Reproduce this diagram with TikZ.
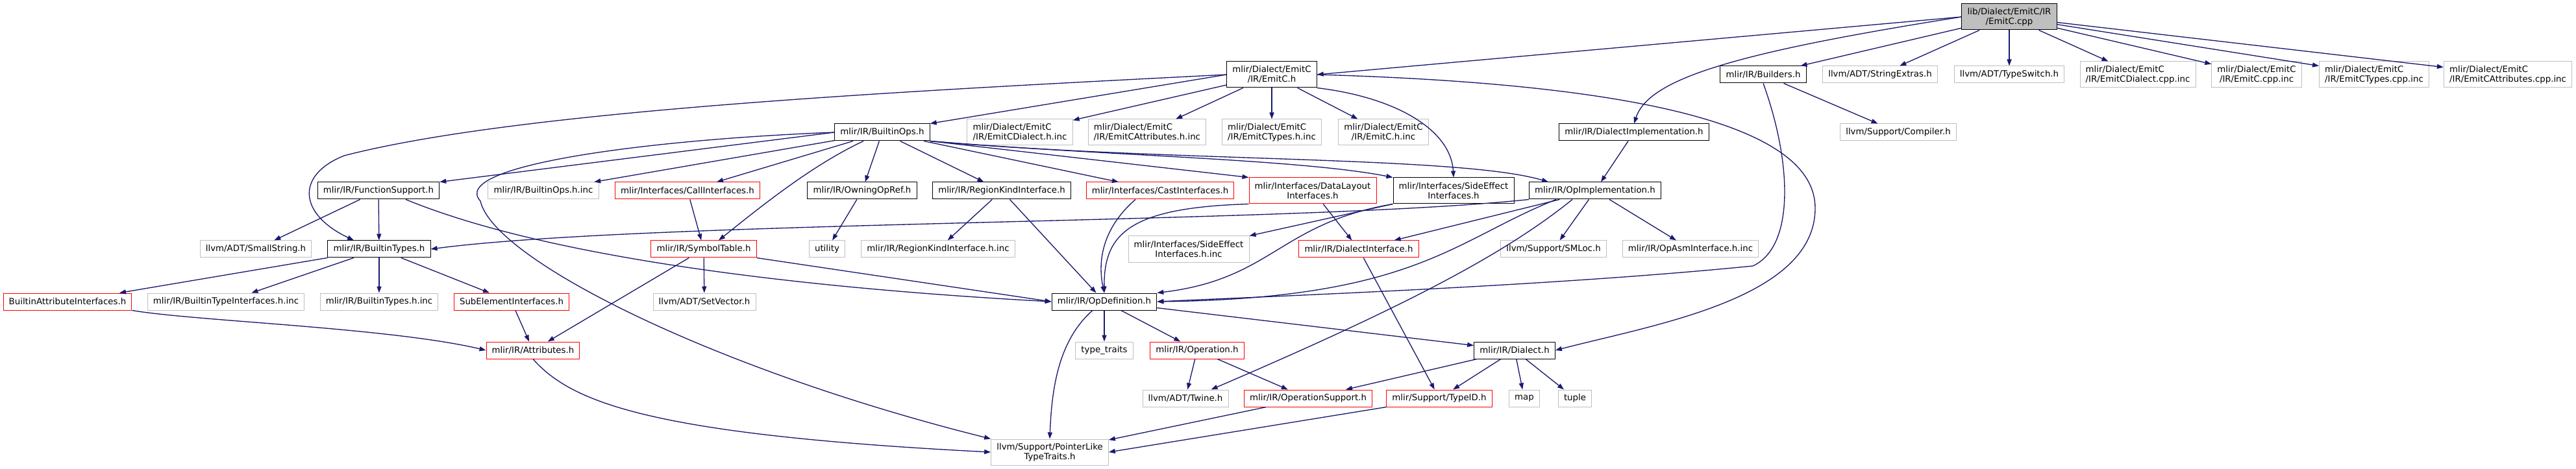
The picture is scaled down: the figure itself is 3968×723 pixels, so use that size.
\documentclass[tikz,border=0pt]{standalone}
\usepackage{fontspec}
\setmainfont{DejaVu Sans}
\usetikzlibrary{arrows.meta, calc}
\definecolor{dxedge}{HTML}{191970}
\definecolor{dxgray}{HTML}{BFBFBF}
\definecolor{dxred}{HTML}{FF0000}

\begin{document}
\begin{tikzpicture}[x=0.75pt, y=-0.75pt,
  every node/.style={font=\fontsize{10}{11.25}\selectfont},
  filebox/.style={draw, fill=white, line width=0.75pt, inner xsep=6.5pt, inner ysep=1pt,
                  minimum height=19.5pt, align=center},
  hdrbox/.style={filebox, draw=black},
  leafbox/.style={filebox, draw=dxgray},
  truncbox/.style={filebox, draw=dxred},
  srcbox/.style={filebox, draw=black, fill=dxgray},
  twoline/.style={minimum height=30pt},
  arrow/.style={-{Triangle[length=7.5pt,width=5.3pt]}, line width=1pt, color=dxedge}
]
\useasboundingbox (0,0) rectangle (3968,723);

% row 0 and 1
\node[srcbox, twoline] (root) at (3095,26) {lib/Dialect/EmitC/IR\\/EmitC.cpp};
\node[hdrbox, twoline] (emitch) at (1959,115) {mlir/Dialect/EmitC\\/IR/EmitC.h};
\node[hdrbox] (builders) at (2716,115) {mlir/IR/Builders.h};
\node[leafbox] (strext) at (2896,115) {llvm/ADT/StringExtras.h};
\node[leafbox] (typeswitch) at (3095,115) {llvm/ADT/TypeSwitch.h};
\node[leafbox, twoline, align=left] (dialcppinc) at (3293,115) {mlir/Dialect/EmitC\\/IR/EmitCDialect.cpp.inc};
\node[leafbox, twoline] (emitccppinc) at (3476,115) {mlir/Dialect/EmitC\\/IR/EmitC.cpp.inc};
\node[leafbox, twoline, align=left] (typescppinc) at (3657,115) {mlir/Dialect/EmitC\\/IR/EmitCTypes.cpp.inc};
\node[leafbox, twoline, align=left] (attrcppinc) at (3863,115) {mlir/Dialect/EmitC\\/IR/EmitCAttributes.cpp.inc};

% row 2
\node[hdrbox] (builtinops) at (1359,204) {mlir/IR/BuiltinOps.h};
\node[leafbox, twoline, align=left] (dialhinc) at (1571,204) {mlir/Dialect/EmitC\\/IR/EmitCDialect.h.inc};
\node[leafbox, twoline, align=left] (attrhinc) at (1767,204) {mlir/Dialect/EmitC\\/IR/EmitCAttributes.h.inc};
\node[leafbox, twoline, align=left] (typeshinc) at (1959,204) {mlir/Dialect/EmitC\\/IR/EmitCTypes.h.inc};
\node[leafbox, twoline] (emitchinc) at (2131,204) {mlir/Dialect/EmitC\\/IR/EmitC.h.inc};
\node[hdrbox] (dialimpl) at (2517,204) {mlir/IR/DialectImplementation.h};
\node[leafbox] (compiler) at (2924,204) {llvm/Support/Compiler.h};

% row 3
\node[hdrbox] (funcsupport) at (583,294) {mlir/IR/FunctionSupport.h};
\node[leafbox] (builtinopsinc) at (837,294) {mlir/IR/BuiltinOps.h.inc};
\node[truncbox] (callintf) at (1059,294) {mlir/Interfaces/CallInterfaces.h};
\node[hdrbox] (owningop) at (1328,294) {mlir/IR/OwningOpRef.h};
\node[hdrbox] (regionkind) at (1543,294) {mlir/IR/RegionKindInterface.h};
\node[truncbox] (castintf) at (1787,294) {mlir/Interfaces/CastInterfaces.h};
\node[truncbox, twoline] (datalayout) at (2022,294) {mlir/Interfaces/DataLayout\\Interfaces.h};
\node[hdrbox, twoline] (sideeffect) at (2239,294) {mlir/Interfaces/SideEffect\\Interfaces.h};
\node[hdrbox] (opimpl) at (2457,294) {mlir/IR/OpImplementation.h};

% row 4
\node[leafbox] (smallstring) at (394,384) {llvm/ADT/SmallString.h};
\node[hdrbox] (builtintypes) at (584,384) {mlir/IR/BuiltinTypes.h};
\node[truncbox] (symboltable) at (1084,384) {mlir/IR/SymbolTable.h};
\node[leafbox] (utility) at (1274,384) {utility};
\node[leafbox] (regionkindinc) at (1445,384) {mlir/IR/RegionKindInterface.h.inc};
\node[leafbox, twoline] (sideeffectinc) at (1831,384) {mlir/Interfaces/SideEffect\\Interfaces.h.inc};
\node[truncbox] (dialintf) at (2093,384) {mlir/IR/DialectInterface.h};
\node[leafbox] (smloc) at (2393,384) {llvm/Support/SMLoc.h};
\node[leafbox] (opasminc) at (2604,384) {mlir/IR/OpAsmInterface.h.inc};

% row 5
\node[truncbox] (builtinattrintf) at (104,465) {BuiltinAttributeInterfaces.h};
\node[leafbox] (builtintypeintfinc) at (348,465) {mlir/IR/BuiltinTypeInterfaces.h.inc};
\node[leafbox] (builtintypesinc) at (584,465) {mlir/IR/BuiltinTypes.h.inc};
\node[truncbox] (subelem) at (788,465) {SubElementInterfaces.h};
\node[leafbox] (setvector) at (1085,465) {llvm/ADT/SetVector.h};
\node[hdrbox] (opdef) at (1701,465) {mlir/IR/OpDefinition.h};

% row 6 to 8
\node[truncbox] (attributes) at (821,540) {mlir/IR/Attributes.h};
\node[leafbox] (typetraits) at (1701,540) {type\_traits};
\node[truncbox] (operation) at (1844,540) {mlir/IR/Operation.h};
\node[hdrbox] (dialect) at (2333,540) {mlir/IR/Dialect.h};
\node[leafbox] (twine) at (1826,614) {llvm/ADT/Twine.h};
\node[truncbox] (opsupport) at (2015,614) {mlir/IR/OperationSupport.h};
\node[truncbox] (typeid) at (2217,614) {mlir/Support/TypeID.h};
\node[leafbox] (map) at (2348,614) {map};
\node[leafbox] (tuple) at (2426,614) {tuple};
\node[leafbox, twoline] (pointerlike) at (1617,697) {llvm/Support/PointerLike\\TypeTraits.h};

% includes of the source file
\draw[arrow] (root.west) -- (emitch.east);
\draw[arrow] (root.west) .. controls (2680,80) and (2540,120) .. (dialimpl.north);
\draw[arrow] (root) -- (builders); \draw[arrow] (root) -- (strext); \draw[arrow] (root) -- (typeswitch);
\draw[arrow] (root) -- (dialcppinc); \draw[arrow] (root) -- (emitccppinc);
\draw[arrow] (root) -- (typescppinc); \draw[arrow] (root) -- (attrcppinc);

% EmitC.h
\draw[arrow] (emitch.west) -- (builtinops.north east);
\draw[arrow] (emitch) -- (dialhinc); \draw[arrow] (emitch) -- (attrhinc);
\draw[arrow] (emitch) -- (typeshinc); \draw[arrow] (emitch) -- (emitchinc);
\draw[arrow] (emitch.south east) .. controls (2150,150) and (2235,200) .. (sideeffect.north);
\draw[arrow] (emitch.east) .. controls (2550,130) and (2795,200) .. (2796,320)
  .. controls (2797,460) and (2550,500) .. (dialect.east);
\draw[arrow] (emitch.west) .. controls (1400,140) and (800,170) .. (530,240)
  .. controls (455,270) and (460,330) .. ($(builtintypes.north)+(-39,0)$);

% BuiltinOps.h
\draw[arrow] (builtinops.west) -- (funcsupport.north east);
\draw[arrow] (builtinops) -- (builtinopsinc); \draw[arrow] (builtinops) -- (callintf);
\draw[arrow] (builtinops) -- (owningop); \draw[arrow] (builtinops) -- (regionkind);
\draw[arrow] (builtinops) -- (castintf);
\draw[arrow] (builtinops.south east) -- (datalayout.north west);
\draw[arrow] (builtinops.south east) .. controls (1700,240) and (2000,245) .. (sideeffect.north west);
\draw[arrow] (builtinops.south east) .. controls (1800,250) and (2250,240) .. ($(opimpl.north west)+(30,0)$);
\draw[arrow] ($(builtinops.south)+(-29,0)$) .. controls (1250,255) and (1170,320) .. ($(symboltable.north)+(23,0)$);
\draw[arrow] (builtinops.west) .. controls (1000,215) and (690,255) .. (740,310)
  .. controls (760,400) and (1100,570) .. (pointerlike.north west);

% Builders.h and DialectImplementation.h
\draw[arrow] (builders) -- (compiler);
\draw[arrow] (builders.south) .. controls (2760,250) and (2765,380) .. (2700,410)
  .. controls (2400,440) and (2000,455) .. (opdef.east);
\draw[arrow] (dialimpl) -- (opimpl);

% row 3 headers
\draw[arrow] (funcsupport) -- (smallstring); \draw[arrow] (funcsupport) -- (builtintypes);
\draw[arrow] ($(funcsupport.south)+(42,0)$) .. controls (850,400) and (1250,445) .. (opdef.west);
\draw[arrow] (callintf) -- (symboltable);
\draw[arrow] (owningop) -- (utility);
\draw[arrow] (regionkind) -- (regionkindinc); \draw[arrow] (regionkind) -- (opdef);
\draw[arrow] ($(castintf.south)+(-38,0)$) .. controls (1700,350) and (1690,400) .. (opdef.north);
\draw[arrow] (datalayout.south west) .. controls (1740,320) and (1700,360) .. (opdef.north);
\draw[arrow] (datalayout) -- (dialintf);
\draw[arrow] (sideeffect.south west) -- (sideeffectinc.north east);
\draw[arrow] (sideeffect.south west) .. controls (1970,345) and (1960,430) .. (opdef.north east);

% OpImplementation.h
\draw[arrow] (opimpl.south west) .. controls (2000,345) and (1000,340) .. (builtintypes.east);
\draw[arrow] (opimpl) -- (dialintf);
\draw[arrow] ($(opimpl.south)+(-60,0)$) .. controls (2240,370) and (2180,460) .. (opdef.east);
\draw[arrow] ($(opimpl.south)+(-35,0)$) .. controls (2320,390) and (2170,470) .. ($(twine.north east)+(-27,0)$);
\draw[arrow] (opimpl) -- (smloc); \draw[arrow] (opimpl) -- (opasminc);

% row 4 and 5 headers
\draw[arrow] (builtintypes) -- (builtinattrintf); \draw[arrow] (builtintypes) -- (builtintypeintfinc);
\draw[arrow] (builtintypes) -- (builtintypesinc); \draw[arrow] (builtintypes) -- (subelem);
\draw[arrow] (builtinattrintf.south east) .. controls (300,495) and (600,505) .. (attributes.west);
\draw[arrow] (subelem) -- (attributes);
\draw[arrow] (symboltable) -- (setvector); \draw[arrow] (symboltable) -- (attributes);
\draw[arrow] (symboltable.south east) -- (opdef.west);
\draw[arrow] (dialintf) -- (typeid);

% OpDefinition.h and below
\draw[arrow] (opdef) -- (typetraits); \draw[arrow] (opdef) -- (operation); \draw[arrow] (opdef) -- (dialect);
\draw[arrow] ($(opdef.south)+(-18,0)$) .. controls (1630,525) and (1620,600) .. (pointerlike.north);
\draw[arrow] (attributes.south) .. controls (880,620) and (1000,670) .. (pointerlike.west);
\draw[arrow] (operation) -- (twine); \draw[arrow] (operation) -- (opsupport);
\draw[arrow] (dialect) -- (opsupport); \draw[arrow] (dialect) -- (typeid);
\draw[arrow] (dialect) -- (map); \draw[arrow] (dialect) -- (tuple);
\draw[arrow] (opsupport) -- (pointerlike);
\draw[arrow] (typeid.south west) -- (pointerlike.east);

\end{tikzpicture}
\end{document}
